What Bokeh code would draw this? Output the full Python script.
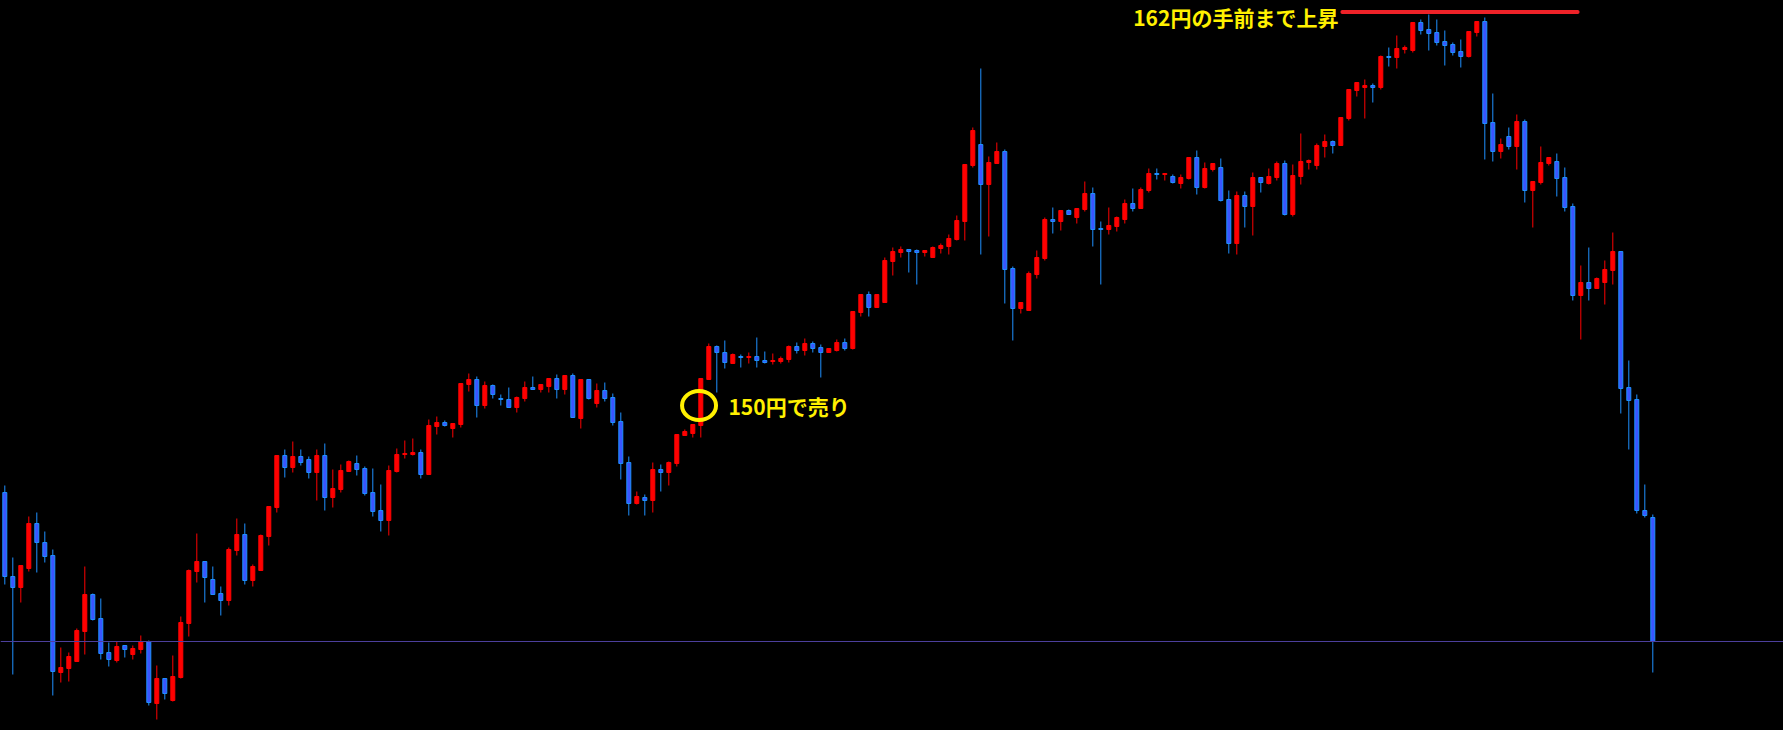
from bokeh.plotting import figure
from bokeh.models import Range1d, Span, ColumnDataSource, GlobalInlineStyleSheet
from bokeh.core.properties import value
from bokeh.embed import file_html
from bokeh.resources import INLINE

# ---- data (USD/JPY-like daily candles) ----
opens = [
    147.84, 145.32, 144.99, 145.56, 146.91, 146.34, 145.95, 142.44, 142.56, 142.77,
    143.67, 144.78, 144.06, 143.04, 142.80, 143.25, 142.98, 143.13, 143.37, 141.51,
    142.26, 141.60, 142.29, 143.91, 145.47, 145.77, 145.23, 144.81, 144.60, 146.10,
    146.58, 145.20, 145.50, 146.52, 147.39, 148.95, 148.59, 148.92, 148.83, 148.44,
    148.95, 147.69, 147.93, 148.47, 148.71, 148.56, 147.84, 147.30, 147.00, 148.47,
    148.98, 148.98, 149.04, 148.38, 149.82, 149.94, 149.76, 149.88, 151.08, 151.23,
    150.45, 151.05, 150.66, 150.63, 150.39, 150.66, 150.99, 150.93, 151.02, 151.26,
    150.93, 151.35, 150.06, 151.23, 150.51, 150.90, 150.69, 149.97, 148.74, 147.51,
    147.69, 147.60, 148.53, 148.44, 148.71, 149.55, 149.61, 149.85, 151.23, 152.22,
    152.04, 151.71, 151.92, 151.89, 151.92, 151.80, 151.77, 151.77, 151.83, 152.22,
    152.10, 152.31, 152.19, 152.04, 152.10, 152.34, 152.16, 153.24, 153.78, 153.39,
    153.54, 154.77, 155.04, 155.13, 155.10, 155.04, 154.89, 155.16, 155.22, 155.43,
    155.97, 157.65, 158.28, 157.08, 157.71, 158.07, 154.56, 153.36, 153.30, 154.38,
    154.86, 156.03, 155.97, 156.30, 156.09, 156.33, 156.81, 155.76, 155.73, 155.82,
    156.03, 156.51, 156.36, 156.90, 157.41, 157.38, 157.32, 157.11, 157.26, 157.89,
    156.99, 157.53, 157.59, 156.63, 155.31, 156.75, 156.42, 157.29, 157.11, 157.29,
    157.71, 156.18, 157.32, 157.74, 157.65, 158.22, 158.37, 158.25, 159.06, 159.90,
    159.99, 160.05, 159.99, 160.92, 160.89, 161.13, 161.10, 161.94, 161.73, 161.64,
    161.37, 161.28, 161.07, 160.92, 161.64, 161.97, 158.94, 158.07, 158.52, 158.22,
    158.97, 156.90, 157.14, 157.71, 157.77, 157.29, 156.42, 153.75, 154.14, 153.96,
    154.14, 154.50, 155.07, 150.99, 150.63, 147.30, 147.09,
]
highs = [
    148.05, 145.89, 145.65, 147.12, 147.24, 146.67, 146.13, 143.19, 143.04, 143.76,
    145.62, 144.81, 144.66, 143.34, 143.37, 143.25, 143.25, 143.55, 143.40, 142.65,
    142.26, 142.95, 144.12, 145.53, 146.61, 145.77, 145.62, 145.02, 146.19, 147.06,
    146.91, 145.68, 146.58, 147.42, 148.95, 149.13, 149.37, 149.13, 148.92, 149.13,
    149.31, 148.53, 148.68, 148.80, 148.95, 148.62, 148.56, 148.08, 148.65, 149.16,
    149.40, 149.46, 149.13, 150.03, 150.12, 150.00, 149.91, 151.11, 151.41, 151.32,
    151.17, 151.08, 150.78, 150.99, 150.72, 151.17, 151.32, 151.08, 151.26, 151.38,
    151.35, 151.41, 151.23, 151.23, 151.11, 151.14, 150.81, 150.24, 148.92, 147.87,
    147.78, 148.74, 148.68, 148.77, 149.58, 149.73, 149.88, 151.26, 152.31, 152.25,
    152.40, 152.01, 151.98, 152.04, 152.49, 152.07, 152.01, 151.92, 152.25, 152.34,
    152.46, 152.37, 152.28, 152.16, 152.43, 152.46, 153.27, 153.78, 153.87, 153.78,
    154.89, 155.19, 155.22, 155.13, 155.13, 155.10, 155.22, 155.31, 155.58, 156.15,
    157.68, 158.79, 160.56, 157.92, 158.34, 158.13, 154.62, 153.54, 154.47, 155.10,
    156.09, 156.39, 156.30, 156.33, 156.36, 157.17, 156.99, 155.97, 156.39, 156.12,
    156.63, 156.96, 156.99, 157.56, 157.56, 157.41, 157.38, 157.38, 157.89, 158.10,
    157.74, 157.71, 157.86, 156.90, 156.87, 156.87, 157.44, 157.29, 157.56, 157.77,
    157.80, 157.68, 158.61, 157.83, 158.31, 158.58, 158.40, 159.09, 159.93, 160.14,
    160.23, 160.11, 160.95, 161.19, 161.55, 161.25, 161.94, 162.03, 162.18, 162.03,
    161.70, 161.34, 161.43, 161.67, 161.97, 162.09, 159.81, 158.46, 158.79, 159.18,
    159.03, 157.17, 158.22, 157.89, 158.01, 157.59, 156.51, 154.65, 155.19, 154.29,
    154.80, 155.64, 155.07, 151.80, 150.78, 148.08, 147.18,
]
lows = [
    145.08, 142.38, 144.54, 145.47, 145.44, 145.74, 141.75, 142.14, 142.17, 142.77,
    142.98, 144.00, 142.83, 142.62, 142.74, 142.89, 142.83, 143.01, 141.45, 141.03,
    141.63, 141.57, 142.26, 143.52, 145.14, 144.54, 144.78, 144.15, 144.45, 145.95,
    145.08, 145.02, 145.50, 146.25, 147.24, 148.29, 148.44, 148.65, 148.26, 147.60,
    147.30, 147.39, 147.84, 148.47, 148.35, 147.75, 147.12, 146.67, 146.55, 148.44,
    148.86, 148.95, 148.26, 148.38, 149.58, 149.82, 149.49, 149.79, 150.87, 150.09,
    150.36, 150.66, 150.45, 150.39, 150.24, 150.57, 150.93, 150.84, 150.84, 150.66,
    150.78, 150.09, 149.76, 150.63, 150.39, 150.57, 149.85, 148.23, 147.15, 147.48,
    147.15, 147.24, 147.87, 148.05, 148.62, 149.55, 149.49, 149.49, 151.23, 150.84,
    151.56, 151.71, 151.59, 151.71, 151.59, 151.71, 151.68, 151.71, 151.74, 152.01,
    151.95, 152.04, 151.29, 152.04, 152.07, 152.10, 152.13, 153.12, 153.12, 153.39,
    153.54, 154.35, 154.89, 154.44, 154.08, 154.92, 154.89, 155.01, 154.98, 155.40,
    155.40, 157.59, 154.98, 155.52, 157.71, 153.51, 152.40, 153.21, 153.30, 154.26,
    154.80, 155.61, 155.70, 156.18, 155.91, 156.27, 155.22, 154.08, 155.58, 155.67,
    155.91, 156.27, 156.36, 156.84, 157.23, 157.20, 157.11, 156.96, 157.23, 156.78,
    156.96, 157.47, 156.57, 155.01, 154.98, 155.79, 155.55, 156.84, 157.08, 157.20,
    156.15, 156.12, 157.08, 157.53, 157.53, 157.89, 158.01, 158.25, 159.00, 159.72,
    159.06, 159.54, 159.93, 160.62, 160.56, 161.01, 161.04, 161.58, 161.10, 161.25,
    160.65, 160.95, 160.59, 160.89, 161.52, 157.83, 157.77, 157.86, 158.13, 157.53,
    156.54, 155.79, 157.08, 157.65, 156.72, 156.27, 153.60, 152.43, 153.60, 153.96,
    153.48, 154.08, 150.21, 149.13, 147.21, 147.09, 142.44,
]
closes = [
    145.32, 144.99, 145.65, 146.91, 146.34, 145.92, 142.47, 142.59, 142.92, 143.70,
    144.78, 144.03, 143.01, 142.83, 143.22, 143.13, 143.16, 143.37, 141.54, 142.26,
    141.81, 142.32, 143.94, 145.50, 145.77, 145.29, 144.78, 144.60, 146.13, 146.58,
    145.20, 145.62, 146.55, 147.42, 148.95, 148.59, 148.92, 148.74, 148.44, 148.95,
    147.69, 147.96, 148.50, 148.77, 148.53, 147.81, 147.27, 147.00, 148.50, 148.98,
    149.01, 149.04, 148.38, 149.85, 149.94, 149.85, 149.91, 151.11, 151.23, 150.45,
    151.05, 150.78, 150.63, 150.39, 150.69, 150.99, 150.93, 151.08, 151.26, 150.93,
    151.35, 150.09, 151.23, 150.66, 150.90, 150.66, 149.94, 148.71, 147.51, 147.72,
    147.60, 148.53, 148.44, 148.74, 149.58, 149.67, 149.88, 151.26, 152.22, 152.04,
    151.74, 151.98, 151.89, 151.92, 151.80, 151.74, 151.80, 151.86, 152.22, 152.10,
    152.31, 152.16, 152.04, 152.16, 152.34, 152.16, 153.27, 153.78, 153.39, 153.78,
    154.80, 155.07, 155.13, 155.07, 155.04, 155.10, 155.19, 155.25, 155.46, 156.00,
    157.68, 158.70, 157.08, 157.74, 158.07, 154.53, 153.36, 153.54, 154.41, 154.89,
    156.03, 155.97, 156.30, 156.18, 156.36, 156.81, 155.73, 155.73, 155.85, 156.09,
    156.51, 156.36, 156.93, 157.41, 157.38, 157.41, 157.14, 157.29, 157.89, 156.99,
    157.56, 157.71, 156.60, 155.31, 156.75, 156.42, 157.29, 157.14, 157.32, 157.71,
    156.18, 157.35, 157.77, 157.80, 158.25, 158.37, 158.25, 159.09, 159.93, 160.14,
    160.05, 159.99, 160.92, 160.89, 161.16, 161.19, 161.94, 161.70, 161.61, 161.34,
    161.25, 161.04, 160.92, 161.67, 161.97, 158.91, 158.07, 158.28, 158.22, 158.97,
    156.90, 157.17, 157.74, 157.89, 157.26, 156.39, 153.75, 154.14, 153.96, 154.26,
    154.53, 155.07, 150.96, 150.60, 147.30, 147.15, 143.37,
]

# annotations
sell_bar = 87            # candle that was circled
sell_label = "150円で売り"
peak_label = "162円の手前まで上昇"
peak_level = 162.255
peak_from, peak_to = 167.2, 196.6

UP_COL = "#FF0000"
DN_FILL = "#3A55FF"
DN_EDGE = "#1E90FF"
YELLOW = "#FFF000"

n = len(opens)
xs = list(range(n))
is_up = [c > o for o, c in zip(opens, closes)]
src = ColumnDataSource(dict(
    x=xs, high=highs, low=lows,
    top=[max(o, c) for o, c in zip(opens, closes)],
    bottom=[min(o, c) for o, c in zip(opens, closes)],
    fill=[UP_COL if u else DN_FILL for u in is_up],
    edge=[UP_COL if u else DN_EDGE for u in is_up],
))

p = figure(width=1783, height=730,
           x_range=Range1d(-0.5375, 222.3375), y_range=Range1d(140.70, 162.60),
           output_backend="svg", toolbar_location=None,
           x_axis_location=None, y_axis_location=None,
           background_fill_color="black", border_fill_color="black",
           min_border=0)
p.grid.visible = False
p.outline_line_color = None

p.add_layout(Span(location=closes[-1], dimension="width",
                  line_color="#4C3F9C", line_width=1))

p.segment(x0="x", y0="low", x1="x", y1="high", line_color="edge",
          line_width=1, source=src)
p.vbar(x="x", width=0.5, top="top", bottom="bottom", fill_color="fill",
       line_color="edge", line_width=1, source=src)

# circle around the sell candle
p.ellipse(x=[sell_bar - 0.22], y=[150.45], width=[34], height=[29],
          width_units="screen", height_units="screen",
          fill_color=None, line_color=YELLOW, line_width=4)
p.text(x=[sell_bar + 3.46], y=[150.45], text=[sell_label],
       text_color=YELLOW, text_font=value("Noto Sans CJK JP"),
       text_font_style="bold", text_font_size="21px",
       text_align="left", text_baseline="middle")

# peak annotation
p.segment(x0=[peak_from], y0=[peak_level], x1=[peak_to], y1=[peak_level],
          line_color="#EE2228", line_width=4, line_cap="round")
p.text(x=[peak_from - 0.5], y=[162.12], text=[peak_label],
       text_color=YELLOW, text_font=value("Noto Sans CJK JP"),
       text_font_style="bold", text_font_size="21px",
       text_align="right", text_baseline="middle")

p.stylesheets = [GlobalInlineStyleSheet(css="html, body { background: #000000; margin: 0; overflow: hidden; }")]

open("out.html", "w").write(file_html(p, INLINE))
